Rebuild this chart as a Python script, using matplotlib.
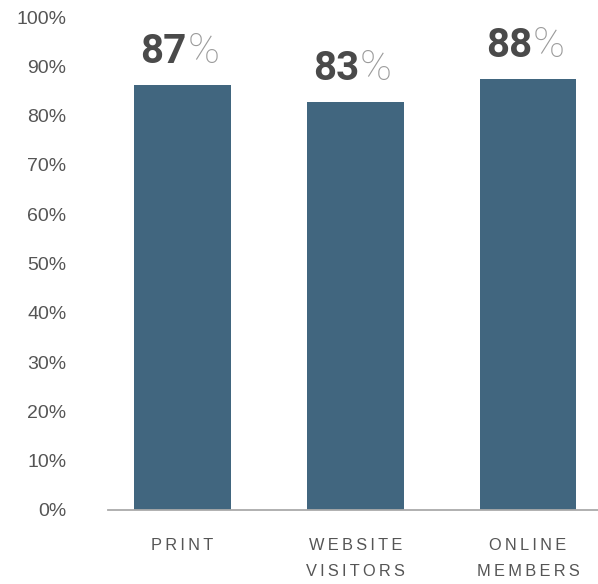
import matplotlib
matplotlib.use("Agg")
import matplotlib.pyplot as plt

categories = ["PRINT", "WEBSITE\nVISITORS", "ONLINE\nMEMBERS"]
bar_values = [86.2, 82.8, 87.4]
label_values = ["87", "83", "88"]
y_ticks = [0, 10, 20, 30, 40, 50, 60, 70, 80, 90, 100]

bar_color = "#41667f"
text_color = "#555555"

plt.rcParams["font.family"] = ["Liberation Sans", "DejaVu Sans"]

fig = plt.figure(figsize=(5.98, 5.84), dpi=100)
ax = fig.add_axes([108 / 598, 74 / 584, 490 / 598, 493 / 584])

x = range(len(categories))
ax.bar(x, bar_values, width=0.56, color=bar_color, zorder=2)

ax.set_xlim(-0.431, 2.405)
ax.set_ylim(0, 100)

for s in ["top", "right", "left"]:
    ax.spines[s].set_visible(False)
ax.spines["bottom"].set_color("#aaaaaa")
ax.spines["bottom"].set_linewidth(1.3)

ax.set_yticks(y_ticks)
ax.set_yticklabels([f"{t}%" for t in y_ticks], fontsize=14, color=text_color)
ax.tick_params(axis="y", length=0, pad=30)

# spaced-out category names
spaced = ["\n".join("\u2009".join(w) for w in c.split("\n")) for c in categories]
ax.set_xticks(list(x))
ax.set_xticklabels(spaced, fontsize=11.8, color=text_color, linespacing=1.95)
ax.tick_params(axis="x", length=0, pad=20)

for xi, v, lab in zip(x, bar_values, label_values):
    ax.annotate(lab, (xi, v), xytext=(3, 16), textcoords="offset points",
                ha="right", va="baseline", fontsize=29, fontweight="bold",
                color="#4a4a4a", family=["Roboto", "DejaVu Sans"])
    ax.annotate("%", (xi, v), xytext=(3.5, 16), textcoords="offset points",
                ha="left", va="baseline", fontsize=31, fontweight="light",
                color="#9a9a9a", family=["Roboto", "DejaVu Sans"])

fig.savefig("out.png", dpi=100)
